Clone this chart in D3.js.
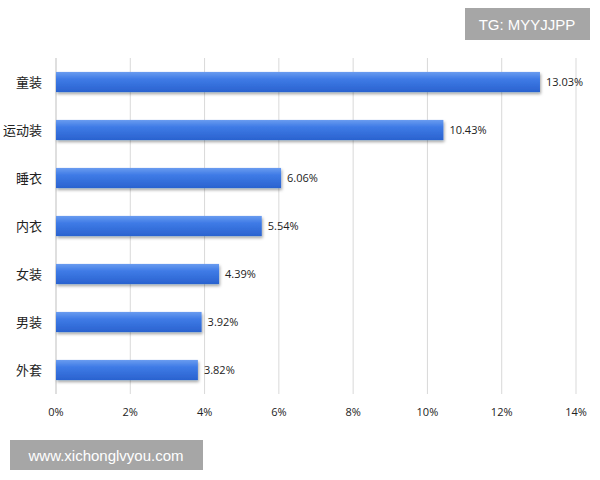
<!DOCTYPE html>
<html><head><meta charset="utf-8">
<script src="https://cdn.jsdelivr.net/npm/d3@7"></script>
<style>body{margin:0;background:#fff}</style>
</head><body>
<script>
const categories = ['童装', '运动装', '睡衣', '内衣', '女装', '男装', '外套'];
const values = [13.03, 10.43, 6.06, 5.54, 4.39, 3.92, 3.82];
const ticks = [0, 2, 4, 6, 8, 10, 12, 14];

const width = 600, height = 480;
const svg = d3.select('body').append('svg').attr('width', width).attr('height', height);
const defs = svg.append('defs');
const grad = defs.append('linearGradient').attr('id', 'barg').attr('x1', 0).attr('x2', 0).attr('y1', 0).attr('y2', 1);
grad.append('stop').attr('offset', '0%').attr('stop-color', '#6a9cf0');
grad.append('stop').attr('offset', '35%').attr('stop-color', '#3f7be6');
grad.append('stop').attr('offset', '100%').attr('stop-color', '#2a62cf');
const f = defs.append('filter').attr('id', 'shadow').attr('x', '-5%').attr('y', '-30%').attr('width', '110%').attr('height', '180%');
f.append('feDropShadow').attr('dx', 1).attr('dy', 2).attr('stdDeviation', 1.5).attr('flood-color', '#000').attr('flood-opacity', 0.35);

const x = d3.scaleLinear().domain([0, 14]).range([56, 576]);
const y = d3.scaleBand().domain(categories).range([58, 394]).paddingInner(0.58).paddingOuter(0.29);

svg.append('g').selectAll('line').data(ticks.slice(1)).join('line')
  .attr('x1', d => x(d)).attr('x2', d => x(d)).attr('y1', 58).attr('y2', 394)
  .attr('stroke', '#d9d9d9');
svg.append('line').attr('x1', x(0)).attr('x2', x(0)).attr('y1', 58).attr('y2', 394).attr('stroke', '#bfbfbf');

svg.append('g').selectAll('rect').data(values).join('rect')
  .attr('x', x(0)).attr('y', (d, i) => y(categories[i]))
  .attr('width', d => x(d) - x(0)).attr('height', y.bandwidth())
  .attr('fill', 'url(#barg)').attr('filter', 'url(#shadow)');

svg.append('g').selectAll('text').data(values).join('text')
  .attr('x', d => x(d) + 6).attr('y', (d, i) => y(categories[i]) + y.bandwidth() / 2 + 4)
  .attr('font-family', 'Open Sans, sans-serif').attr('font-size', 11).attr('fill', '#222')
  .text(d => d.toFixed(2) + '%');

svg.append('g').selectAll('text').data(categories).join('text')
  .attr('x', 42).attr('y', d => y(d) + y.bandwidth() / 2 + 5).attr('text-anchor', 'end')
  .attr('font-family', 'Noto Sans CJK SC, sans-serif').attr('font-size', 13).attr('fill', '#222')
  .text(d => d);

svg.append('g').selectAll('text').data(ticks).join('text')
  .attr('x', d => x(d)).attr('y', 416).attr('text-anchor', 'middle')
  .attr('font-family', 'Open Sans, sans-serif').attr('font-size', 11).attr('fill', '#222')
  .text(d => d + '%');

svg.append('rect').attr('x', 465).attr('y', 8).attr('width', 125).attr('height', 32).attr('fill', '#a6a6a6');
svg.append('text').attr('x', 527).attr('y', 30).attr('text-anchor', 'middle')
  .attr('font-family', 'Liberation Sans, sans-serif').attr('font-size', 15).attr('fill', '#fff').text('TG: MYYJJPP');
svg.append('rect').attr('x', 10).attr('y', 440).attr('width', 193).attr('height', 30).attr('fill', '#a6a6a6');
svg.append('text').attr('x', 106).attr('y', 461).attr('text-anchor', 'middle')
  .attr('font-family', 'Liberation Sans, sans-serif').attr('font-size', 15).attr('fill', '#fff').text('www.xichonglvyou.com');
</script>
</body></html>
